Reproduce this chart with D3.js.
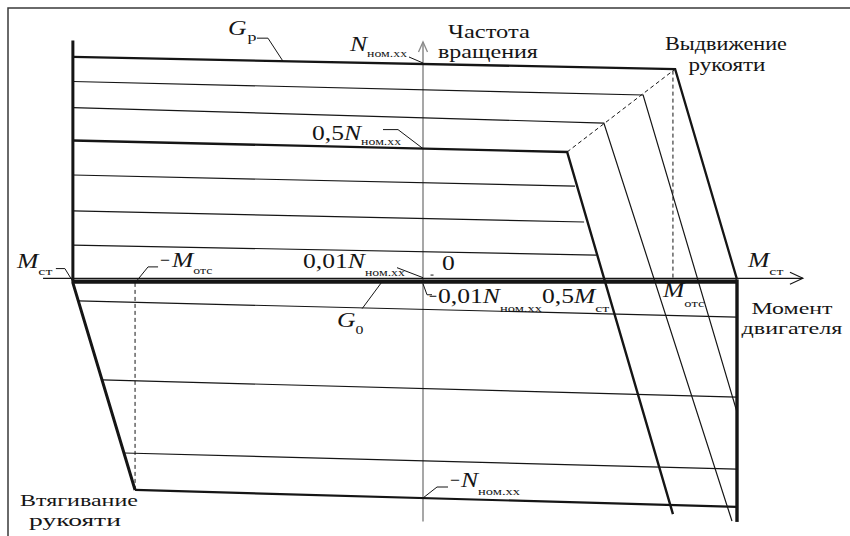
<!DOCTYPE html>
<html>
<head>
<meta charset="utf-8">
<script src="https://cdn.jsdelivr.net/npm/d3@7"></script>
<style>
  body { margin: 0; background: #fff; }
  svg { display: block; }
</style>
</head>
<body>
<svg id="chart" width="850" height="536"></svg>
<script>
// Motor torque M in % of M_ст, rotation speed N in % of N_ном.хх.
// Each characteristic is a list of [M, N] vertices.

// Forward (extension) characteristics, upper half
const charGp   = [[-111.5, 102.8], [80.3, 97.2], [100, 0.5]];
const char2    = [[-111.5, 91.5], [70.1, 85.3], [100, -60.5]];
const char3    = [[-111.5, 79.5], [57.6, 72.4], [98.4, -110.6]];
const charHalf = [[-111.5, 64.4], [45.9, 59.1], [79.6, -107.4]];
const char5    = [[-111.5, 48.5], [48.4, 43.4]];
const char6    = [[-111.5, 32.0], [51.3, 26.9]];
const char7    = [[-111.5, 16.3], [55.1, 11.7]];

// Reverse (retraction) characteristics, lower half
const charRev1 = [[-109.9, -9.4], [100, -16.8]];
const charRev2 = [[-102.2, -45.7], [100, -53.6]];
const charRev3 = [[-95.2, -79.3], [100, -86.7]];
const charRevN = [[-91.7, -96.3], [100, -104.1]];

// Torque limits and the zero-speed characteristic G0
const leftLimit  = [[-111.5, 110.3], [-111.5, -1.1], [-91.7, -96.3]];
const rightLimit = [[100, 0.5], [100, -111]];
const charG0     = [[-111.5, -0.5], [100, -0.5]];

// Cut-off torque guides (dashed)
const cutoffLocus = [[45.9, 59.1], [80.3, 97.2]];
const cutoffFwd   = [[79.6, 96.5], [79.6, 0.5]];
const cutoffRev   = [[-91.7, -1.1], [-91.7, -96.3]];

// Axis extents
const axisM = [[-121, 1], [121, 1]];
const axisN = [[0, -110.8], [0, 109.7]];

const svg = d3.select("#chart");
const x = d3.scaleLinear().domain([0, 100]).range([423, 737]);
const y = d3.scaleLinear().domain([-100, 100]).range([498, 63]);
const line = d3.line().x(d => x(d[0])).y(d => y(d[1]));

const INK = "#151515";
const SERIF = "'Liberation Serif', 'Times New Roman', serif";

// Frame (top and left edges)
svg.append("path").attr("d", "M8,536 L8,8 L850,8")
  .attr("fill", "none").attr("stroke", "#3a3a3a").attr("stroke-width", 1.5);

// Speed axis (grey) with open arrowhead
svg.append("path").attr("d", line(axisN))
  .attr("stroke", "#8a8a8a").attr("stroke-width", 1.5).attr("fill", "none");
{
  const tx = x(axisN[1][0]), ty = y(axisN[1][1]);
  svg.append("path").attr("d", `M${tx - 4.5},${ty + 10} L${tx},${ty} L${tx + 4.5},${ty + 10}`)
    .attr("stroke", "#8a8a8a").attr("stroke-width", 1.3).attr("fill", "none");
}

// Torque axis with open arrowhead
svg.append("path").attr("d", line(axisM))
  .attr("stroke", INK).attr("stroke-width", 1.1).attr("fill", "none");
{
  const tx = x(axisM[1][0]), ty = y(axisM[1][1]);
  svg.append("path").attr("d", `M${tx - 13},${ty - 6} L${tx},${ty} L${tx - 13},${ty + 6}`)
    .attr("stroke", INK).attr("stroke-width", 1.1).attr("fill", "none");
}

// Characteristics
const curves = [
  { d: charG0, w: 4.2 },
  { d: char2, w: 1.2 },
  { d: char3, w: 1.2 },
  { d: char5, w: 1.2 },
  { d: char6, w: 1.2 },
  { d: char7, w: 1.2 },
  { d: charRev1, w: 1.2 },
  { d: charRev2, w: 1.2 },
  { d: charRev3, w: 1.2 },
  { d: charRevN, w: 2.2 },
  { d: charHalf, w: 2.4 },
  { d: charGp, w: 2.3 },
  { d: leftLimit, w: 3 },
  { d: rightLimit, w: 3.4 },
  { d: cutoffLocus, w: 1, dash: "4,3" },
  { d: cutoffFwd, w: 1, dash: "4,3" },
  { d: cutoffRev, w: 1, dash: "4,3" }
];
svg.append("g").selectAll("path").data(curves).join("path")
  .attr("d", c => line(c.d))
  .attr("fill", "none")
  .attr("stroke", INK)
  .attr("stroke-width", c => c.w)
  .attr("stroke-dasharray", c => c.dash || null)
  .attr("stroke-linejoin", "miter");

// Leader lines from labels to the curves
function lerpN(pts, m) {
  for (let i = 0; i < pts.length - 1; i++) {
    const [m0, n0] = pts[i], [m1, n1] = pts[i + 1];
    if ((m - m0) * (m - m1) <= 0) return n0 + (n1 - n0) * (m - m0) / (m1 - m0);
  }
  return pts[0][1];
}
const leaders = [
  { at: [-44.6, lerpN(charGp, -44.6)], off: [[-15, -23], [-26, -23]] },
  { at: [0, 100], off: [[-14, -6]] },
  { at: [0, lerpN(charHalf, 0)], off: [[-25, -19], [-40, -19]] },
  { at: [-111.5, -0.5], off: [[-8, -13], [-17, -13]] },
  { at: [-91.7, -1.1], off: [[13, -16], [23, -16]] },
  { at: [0, 1.3], off: [[-26, -10]] },
  { at: [-13, -0.5], off: [[-20, 27]] },
  { at: [0, -1.5], off: [[4, 11], [9, 11]] },
  { at: [0, -100], off: [[14, -11], [25, -11]] }
];
svg.append("g").selectAll("path").data(leaders).join("path")
  .attr("d", L => {
    const ax = x(L.at[0]), ay = y(L.at[1]);
    return "M" + [[ax, ay]].concat(L.off.map(o => [ax + o[0], ay + o[1]])).map(p => p.join(",")).join("L");
  })
  .attr("fill", "none").attr("stroke", INK).attr("stroke-width", 1);

// small tick by the origin
svg.append("path").attr("d", `M${x(2.4)},${y(2.5)} h3`).attr("stroke", INK).attr("stroke-width", 1);

// Formula labels: pieces are laid out left to right; the serif face is drawn
// slightly wide, and pieces with a set width are stretched to that width.
const WIDE = 1.22;
function label(px, py, parts) {
  let cx = px;
  parts.forEach(p => {
    const size = p.size || (p.sub ? 11 : 21);
    const g = svg.append("g");
    const t = g.append("text")
      .attr("font-family", SERIF)
      .attr("font-size", size)
      .attr("font-style", p.i ? "italic" : null)
      .attr("fill", INK)
      .text(p.t);
    const by = py + (p.sub || 0);
    const natural = t.node().getComputedTextLength();
    const sx = p.w ? p.w / natural : WIDE;
    g.attr("transform", `translate(${cx},${by}) scale(${sx},1)`);
    cx += natural * sx + (p.gap || 0);
  });
}
function caption(cx, py, str, w, size = 18) {
  const g = svg.append("g");
  const t = g.append("text")
    .attr("font-family", SERIF).attr("font-size", size).attr("fill", INK)
    .text(str);
  const natural = t.node().getComputedTextLength();
  g.attr("transform", `translate(${cx - w / 2},${py}) scale(${w / natural},1)`);
}

caption(489, 37.5, "Частота", 82);
caption(488, 57.5, "вращения", 100);
caption(726, 50, "Выдвижение", 122);
caption(727, 71, "рукояти", 77);
caption(792, 314, "Момент", 81, 17.5);
caption(792, 333.5, "двигателя", 101, 17.5);
caption(79, 506, "Втягивание", 118, 17.5);
caption(75, 525.5, "рукояти", 92, 17.5);

label(228, 35, [{ t: "G", i: true, gap: 1 }, { t: "р", sub: 6, w: 9, size: 13 }]);
label(350, 51, [{ t: "N", i: true }, { t: "ном.хх", sub: 6, w: 40 }]);
label(312, 140, [{ t: "0,5" }, { t: "N", i: true }, { t: "ном.хх", sub: 5, w: 40 }]);
label(17, 268, [{ t: "M", i: true }, { t: "ст", sub: 7, w: 14 }]);
label(160, 267, [{ t: "−", w: 10, gap: 2 }, { t: "M", i: true }, { t: "отс", sub: 7, w: 19 }]);
label(303, 268, [{ t: "0,01" }, { t: "N", i: true }, { t: "ном.хх", sub: 8, w: 40 }]);
label(442, 270, [{ t: "0" }]);
label(337, 327, [{ t: "G", i: true }, { t: "0", sub: 7, size: 13 }]);
label(429, 303, [{ t: "−", w: 8, gap: 1 }, { t: "0,01" }, { t: "N", i: true }, { t: "ном.хх", sub: 9, w: 42 },
                 { t: "0,5" }, { t: "M", i: true }, { t: "ст", sub: 9, w: 14 }]);
label(663, 297, [{ t: "M", i: true }, { t: "отс", sub: 10, w: 20 }]);
label(748, 267, [{ t: "M", i: true }, { t: "ст", sub: 8, w: 14 }]);
label(450, 487, [{ t: "−", w: 10, gap: 1 }, { t: "N", i: true }, { t: "ном.хх", sub: 8, w: 42 }]);
</script>
</body>
</html>
